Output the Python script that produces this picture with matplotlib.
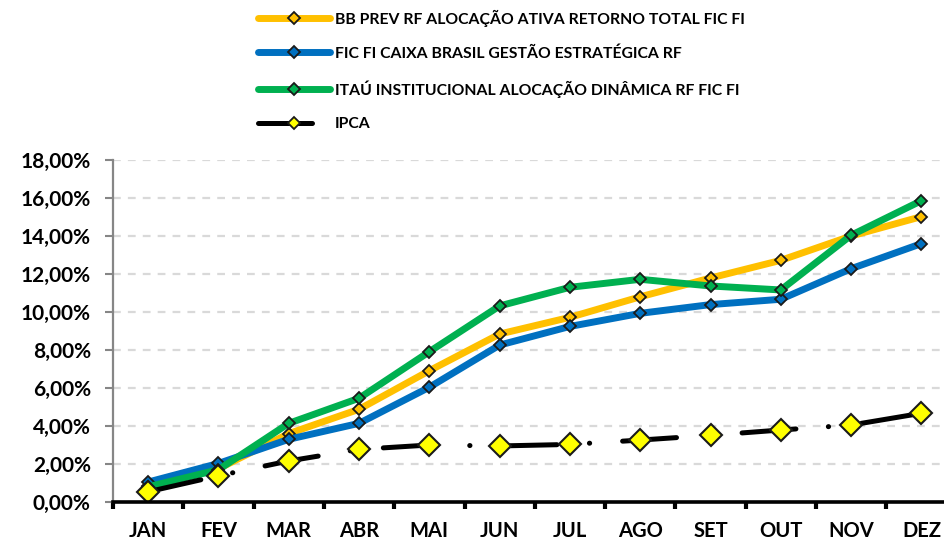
import matplotlib
matplotlib.use("Agg")
import matplotlib.pyplot as plt
from matplotlib.ticker import FuncFormatter, MultipleLocator, FixedLocator

plt.rcParams['font.family'] = ['Lato', 'DejaVu Sans']
plt.rcParams['font.weight'] = 'bold'

months = ["JAN", "FEV", "MAR", "ABR", "MAI", "JUN", "JUL", "AGO", "SET", "OUT", "NOV", "DEZ"]
bb_prev = [0.85, 1.75, 3.60, 4.88, 6.91, 8.84, 9.72, 10.80, 11.79, 12.72, 14.00, 15.02]
caixa = [1.05, 2.03, 3.30, 4.14, 6.04, 8.26, 9.24, 9.93, 10.39, 10.67, 12.28, 13.60]
itau = [0.80, 1.70, 4.14, 5.46, 7.91, 10.32, 11.30, 11.72, 11.37, 11.16, 14.04, 15.86]
ipca = [0.54, 1.38, 2.16, 2.77, 3.00, 2.95, 3.03, 3.26, 3.51, 3.79, 4.05, 4.67]

labels = ["BB PREV RF ALOCAÇÃO ATIVA RETORNO TOTAL FIC FI",
          "FIC FI CAIXA BRASIL GESTÃO ESTRATÉGICA RF",
          "ITAÚ INSTITUCIONAL ALOCAÇÃO DINÂMICA RF FIC FI",
          "IPCA"]

W, H = 944, 545
fig = plt.figure(figsize=(W / 100, H / 100), dpi=100)
ax = fig.add_axes([113 / W, 1 - 502 / H, 843.6 / W, 342 / H])

x = list(range(len(months)))
lw = 5.0
ms = 6.4
l1, = ax.plot(x, [v / 100 for v in bb_prev], color="#FFC000", lw=lw, marker="D", ms=ms,
              mfc="#FFC000", mec="#1a1a1a", mew=1.3, solid_capstyle="round", label=labels[0])
l2, = ax.plot(x, [v / 100 for v in caixa], color="#0070C0", lw=lw, marker="D", ms=ms,
              mfc="#0070C0", mec="#1a1a1a", mew=1.3, solid_capstyle="round", label=labels[1])
l3, = ax.plot(x, [v / 100 for v in itau], color="#00B050", lw=lw, marker="D", ms=ms,
              mfc="#00B050", mec="#1a1a1a", mew=1.3, solid_capstyle="round", label=labels[2])
l4, = ax.plot(x, [v / 100 for v in ipca], color="black", lw=3.6, marker="D", ms=11.5,
              mfc="#FFFF00", mec="#1a1a1a", mew=1.5, dash_capstyle="round",
              linestyle=(0, (10.8, 6.5, 0.05, 6.6)), label=labels[3])

ax.set_xlim(-0.5, 11.5)
ax.set_ylim(0, 0.18)
ax.yaxis.set_major_locator(MultipleLocator(0.02))
ax.yaxis.set_major_formatter(FuncFormatter(lambda v, p: f"{v*100:.2f}".replace(".", ",") + "%"))
ax.set_xticks(x)
ax.set_xticklabels(months)
ax.xaxis.set_minor_locator(FixedLocator([i - 0.5 for i in range(13)]))
ax.tick_params(axis="x", which="major", length=0, pad=14, labelsize=14.5)
ax.tick_params(axis="x", which="minor", length=5, width=3, color="black", direction="out")
ax.tick_params(axis="y", which="major", length=6, width=1.5, color="#868686", labelsize=15, pad=10)

for s in ["top", "right"]:
    ax.spines[s].set_visible(False)
ax.spines["left"].set_color("#868686")
ax.spines["left"].set_linewidth(1.6)
ax.spines["bottom"].set_color("black")
ax.spines["bottom"].set_linewidth(2.6)

ax.grid(axis="y", color="#d9d9d9", lw=1.6, linestyle=(0, (3.5, 3.2)))
ax.set_axisbelow(True)

leg = fig.legend(handles=[l1, l2, l3, l4], loc="upper left",
                 bbox_to_anchor=(258 / W, 1 - 9.5 / H), frameon=False, fontsize=11.3,
                 handlelength=4.6, handletextpad=0.32, labelspacing=1.25, numpoints=1,
                 borderpad=0, borderaxespad=0)
for h in leg.legend_handles:
    h.set_markersize(6)
    h.set_markeredgewidth(1.3)

fig.savefig("out.png", dpi=100)
